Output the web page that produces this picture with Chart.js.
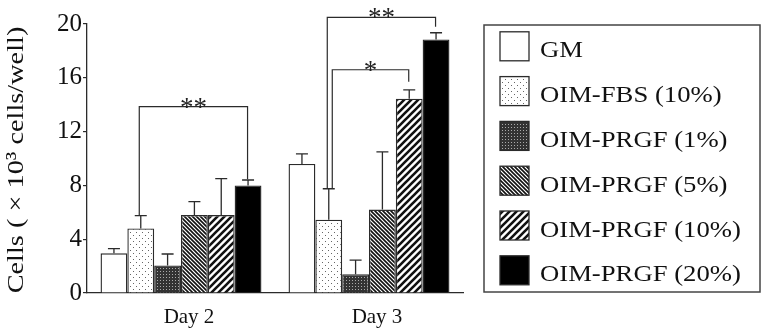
<!DOCTYPE html>
<html>
<head>
<meta charset="utf-8">
<script src="https://cdn.jsdelivr.net/npm/chart.js@4"></script>
<style>
  html, body { margin: 0; padding: 0; background: #fff; }
  #wrap { width: 763px; height: 328px; }
</style>
</head>
<body>
<div id="wrap"><canvas id="cells" width="763" height="328"></canvas></div>
<script>
// categories and series
const days = ['Day 2', 'Day 3'];
const groupNames = ['GM', 'OIM-FBS (10%)', 'OIM-PRGF (1%)', 'OIM-PRGF (5%)', 'OIM-PRGF (10%)', 'OIM-PRGF (20%)'];
const yTitle = 'Cells ( × 10³ cells/well)';

// mean cell counts (x 10^3 cells/well)
const gm = [2.95, 9.6];
const oimFbs10 = [4.8, 5.45];
const oimPrgf1 = [2.05, 1.4];
const oimPrgf5 = [5.8, 6.2];
const oimPrgf10 = [5.8, 14.45];
const oimPrgf20 = [8.0, 18.85];

// top of each error bar (mean + SD)
const gmErr = [3.3, 10.35];
const oimFbs10Err = [5.75, 7.75];
const oimPrgf1Err = [2.9, 2.45];
const oimPrgf5Err = [6.8, 10.5];
const oimPrgf10Err = [8.5, 15.1];
const oimPrgf20Err = [8.4, 19.35];

const yTicks = [0, 4, 8, 12, 16, 20];

// significance brackets: day index, from/to group, level, where each leg ends
const sigDay = [0, 1, 1];
const sigFrom = [1, 1, 1];
const sigTo = [5, 5, 4];
const sigLevel = [13.85, 20.5, 16.6];
const sigLeftEnd = [5.75, 7.75, 7.75];
const sigRightEnd = [8.45, 19.8, 15.7];
const sigMark = ['**', '**', '*'];

const INK = '#2b2b2b';
const SERIF = '"Liberation Serif", "Times New Roman", serif';

function tile(size, draw) {
  const c = document.createElement('canvas');
  c.width = size; c.height = size;
  const g = c.getContext('2d');
  draw(g, size);
  return document.getElementById('cells').getContext('2d').createPattern(c, 'repeat');
}

// fills
const dotted = tile(6, (g) => {
  g.fillStyle = '#fff'; g.fillRect(0, 0, 6, 6);
  g.fillStyle = '#666';
  g.fillRect(1, 1, 1, 1);
  g.fillRect(4, 4, 1, 1);
});
const checker = tile(3, (g) => {
  g.fillStyle = '#333'; g.fillRect(0, 0, 3, 3);
  g.fillStyle = '#aaa'; g.fillRect(1, 1, 1, 1);
});
const backSlash = tile(4, (g, s) => {
  g.fillStyle = '#fff'; g.fillRect(0, 0, s, s);
  g.strokeStyle = '#111'; g.lineWidth = 1.6;
  g.beginPath();
  g.moveTo(-1, -1); g.lineTo(s + 1, s + 1);
  g.moveTo(-1, s - 1); g.lineTo(1, s + 1);
  g.moveTo(s - 1, -1); g.lineTo(s + 1, 1);
  g.stroke();
});
const slash = tile(7, (g, s) => {
  g.fillStyle = '#fff'; g.fillRect(0, 0, s, s);
  g.strokeStyle = '#111'; g.lineWidth = 2.6;
  g.beginPath();
  g.moveTo(-1, s + 1); g.lineTo(s + 1, -1);
  g.moveTo(-1, 1); g.lineTo(1, -1);
  g.moveTo(s - 1, s + 1); g.lineTo(s + 1, s - 1);
  g.stroke();
});

const fills = ['#fff', dotted, checker, backSlash, slash, '#000'];
const seriesValues = [gm, oimFbs10, oimPrgf1, oimPrgf5, oimPrgf10, oimPrgf20];
const seriesErr = [gmErr, oimFbs10Err, oimPrgf1Err, oimPrgf5Err, oimPrgf10Err, oimPrgf20Err];

const datasets = groupNames.map((name, i) => ({
  label: name,
  data: seriesValues[i],
  backgroundColor: fills[i],
  borderColor: INK,
  borderWidth: 1.4,
  categoryPercentage: 0.856,
  barPercentage: 1.0
}));

// upper error bars
const errorBars = {
  id: 'errorBars',
  afterDatasetsDraw(chart) {
    const { ctx } = chart;
    const y = chart.scales.y;
    ctx.save();
    ctx.strokeStyle = INK;
    ctx.lineWidth = 1.3;
    seriesErr.forEach((errs, i) => {
      chart.getDatasetMeta(i).data.forEach((bar, j) => {
        const top = y.getPixelForValue(errs[j]);
        ctx.beginPath();
        ctx.moveTo(bar.x, bar.y);
        ctx.lineTo(bar.x, top);
        ctx.moveTo(bar.x - 6, top);
        ctx.lineTo(bar.x + 6, top);
        ctx.stroke();
      });
    });
    ctx.restore();
  }
};

// significance brackets with stars
const brackets = {
  id: 'brackets',
  afterDraw(chart) {
    const { ctx } = chart;
    const y = chart.scales.y;
    ctx.save();
    ctx.strokeStyle = INK;
    ctx.lineWidth = 1.2;
    ctx.fillStyle = '#222';
    ctx.font = '27px ' + SERIF;
    ctx.textAlign = 'center';
    ctx.textBaseline = 'alphabetic';
    sigMark.forEach((mark, k) => {
      const d = sigDay[k];
      const xl = chart.getDatasetMeta(sigFrom[k]).data[d].x + (k === 2 ? 3.5 : -1.5);
      const xr = chart.getDatasetMeta(sigTo[k]).data[d].x - 0.5;
      const yl = y.getPixelForValue(sigLevel[k]);
      ctx.beginPath();
      ctx.moveTo(xl, y.getPixelForValue(sigLeftEnd[k]));
      ctx.lineTo(xl, yl);
      ctx.lineTo(xr, yl);
      ctx.lineTo(xr, y.getPixelForValue(sigRightEnd[k]));
      ctx.stroke();
      ctx.fillText(mark, (xl + xr) / 2, yl + 9);
    });
    ctx.restore();
  }
};

// rotated y title, slightly widened like the source figure
const yAxisTitle = {
  id: 'yAxisTitle',
  afterDraw(chart) {
    const { ctx, chartArea } = chart;
    ctx.save();
    ctx.translate(17, (chartArea.top + chartArea.bottom) / 2 + 1.5);
    ctx.rotate(-Math.PI / 2);
    ctx.scale(1.18, 1);
    ctx.fillStyle = '#111';
    ctx.font = '24px ' + SERIF;
    ctx.textAlign = 'center';
    ctx.textBaseline = 'middle';
    ctx.fillText(yTitle, 0, 0);
    ctx.restore();
  }
};

// boxed legend on the right
const boxLegend = {
  id: 'boxLegend',
  afterDraw(chart) {
    const { ctx } = chart;
    ctx.save();
    ctx.strokeStyle = '#444';
    ctx.lineWidth = 1.5;
    ctx.strokeRect(484, 25, 276, 267);
    chart.data.datasets.forEach((ds, i) => {
      const cy = 46.3 + i * 44.8;
      ctx.fillStyle = ds.backgroundColor;
      ctx.fillRect(500, cy - 14.5, 29, 29);
      ctx.strokeStyle = INK;
      ctx.lineWidth = 1.3;
      ctx.strokeRect(500, cy - 14.5, 29, 29);
      ctx.save();
      ctx.translate(540, cy + 11);
      ctx.scale(1.16, 1);
      ctx.fillStyle = '#111';
      ctx.font = '23px ' + SERIF;
      ctx.textAlign = 'left';
      ctx.textBaseline = 'alphabetic';
      ctx.fillText(ds.label, 0, 0);
      ctx.restore();
    });
    ctx.restore();
  }
};

new Chart(document.getElementById('cells').getContext('2d'), {
  type: 'bar',
  data: { labels: days, datasets: datasets },
  options: {
    responsive: false,
    animation: false,
    layout: { padding: { left: 0, right: 300, top: 24, bottom: 0 } },
    scales: {
      x: {
        grid: { display: false, drawTicks: false, tickLength: 0 },
        border: { display: true, color: INK, width: 1.3 },
        ticks: {
          color: '#111',
          font: { family: SERIF, size: 21 },
          padding: 12,
          labelOffset: 8
        },
        afterFit(scale) { scale.height = 35; }
      },
      y: {
        min: 0,
        max: 20,
        afterBuildTicks(scale) { scale.ticks = yTicks.map(v => ({ value: v })); },
        grid: { drawOnChartArea: false, drawTicks: true, tickLength: 4, color: INK, lineWidth: 1.2 },
        border: { display: true, color: INK, width: 1.3 },
        ticks: {
          color: '#111',
          font: { family: SERIF, size: 25 },
          padding: 1
        },
        title: { display: false },
        afterFit(scale) { scale.width = 87; }
      }
    },
    plugins: {
      legend: { display: false },
      tooltip: { enabled: false }
    }
  },
  plugins: [errorBars, brackets, yAxisTitle, boxLegend]
});
</script>
</body>
</html>
